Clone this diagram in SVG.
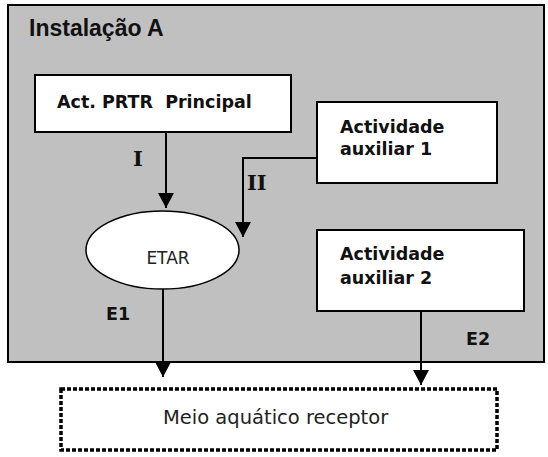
<svg xmlns="http://www.w3.org/2000/svg" width="548" height="457" viewBox="0 0 548 457">
<style>
.box{fill:#fff;stroke:#000;stroke-width:2}
.lbl{font-family:"DejaVu Sans",Verdana,sans-serif;font-weight:bold;font-size:17.5px;fill:#111}
.rom{font-family:"DejaVu Serif","Liberation Serif",serif;font-weight:bold;font-size:21px;fill:#111}
.con{fill:none;stroke:#000;stroke-width:2}
</style>
<defs>
<marker id="ah" markerUnits="userSpaceOnUse" markerWidth="16" markerHeight="16" refX="15" refY="8" orient="auto">
<path d="M0,0 L15,8 L0,16 z" fill="#000"/>
</marker>
</defs>
<g id="instalacao">
<rect x="8" y="5" width="536" height="357" fill="#c0c0c0" stroke="#000" stroke-width="2"/>
<text x="29" y="35.5" style="font-family:'Liberation Sans',Arial,sans-serif;font-weight:bold;font-size:23px;fill:#111">Instalação A</text>
</g>
<g id="act-prtr">
<rect class="box" x="35" y="75" width="256" height="57"/>
<text class="lbl" x="57" y="107.5" xml:space="preserve">Act. PRTR  Principal</text>
</g>
<g id="aux1">
<rect class="box" x="317" y="102" width="180" height="81"/>
<text class="lbl" x="340" y="133">Actividade</text>
<text class="lbl" x="340" y="155">auxiliar 1</text>
</g>
<g id="aux2">
<rect class="box" x="317" y="230" width="207" height="81"/>
<text class="lbl" x="340" y="260">Actividade</text>
<text class="lbl" x="340" y="284">auxiliar 2</text>
</g>
<g id="etar">
<ellipse cx="162.5" cy="250" rx="76.5" ry="39" fill="#fff" stroke="#000" stroke-width="1.5"/>
<text x="168" y="264" text-anchor="middle" style="font-family:'DejaVu Sans',Tahoma,sans-serif;font-size:17px;fill:#222">ETAR</text>
</g>
<g id="meio">
<rect x="61" y="389" width="436" height="61" fill="#fff" stroke="#000" stroke-width="3.5" stroke-dasharray="4 2"/>
<text x="163" y="424" style="font-family:'DejaVu Sans',Tahoma,sans-serif;font-size:19.5px;fill:#222">Meio aquático receptor</text>
</g>
<g id="connectors">
<line class="con" x1="166" y1="132" x2="166" y2="208" marker-end="url(#ah)"/>
<polyline class="con" points="317,158 243,158 243,237" marker-end="url(#ah)"/>
<line class="con" x1="163" y1="289" x2="163" y2="377" marker-end="url(#ah)"/>
<line class="con" x1="421" y1="311" x2="421" y2="385" marker-end="url(#ah)"/>
<text class="rom" x="133" y="165.5">I</text>
<text class="rom" x="247" y="190">II</text>
<text class="lbl" x="106" y="320">E1</text>
<text class="lbl" x="466" y="345">E2</text>
</g>
</svg>
